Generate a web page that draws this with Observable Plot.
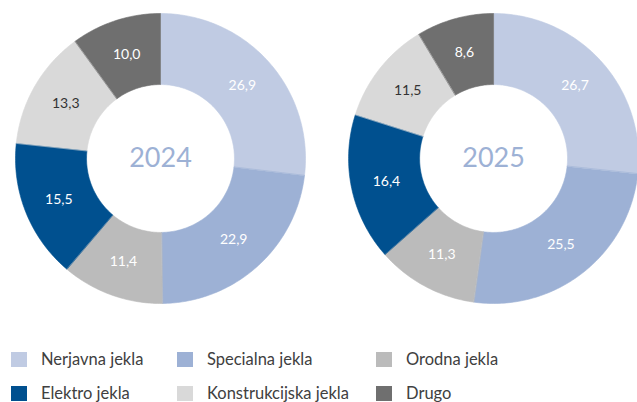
<!DOCTYPE html>
<html>
<head>
<meta charset="utf-8">
<script src="https://cdn.jsdelivr.net/npm/d3@7"></script>
<script src="https://cdn.jsdelivr.net/npm/@observablehq/plot@0.6"></script>
<style>
  html, body { margin: 0; padding: 0; background: #fff; overflow: hidden; }
  body { width: 637px; height: 402px; position: relative; font-family: Lato, "Open Sans", sans-serif; }
  #chart svg { display: block; }
  .legend { position: absolute; left: 0; top: 351px; width: 637px; }
  .item { position: absolute; display: flex; align-items: center; font-size: 16.5px; color: #404040; height: 16px; white-space: nowrap; }
  .sw { width: 16px; height: 15px; margin-right: 14px; flex: none; }
</style>
</head>
<body>
<div id="chart"></div>
<div class="legend" id="legend"></div>
<script>
// ---- data ----
const categories = ["Nerjavna jekla", "Specialna jekla", "Orodna jekla", "Elektro jekla", "Konstrukcijska jekla", "Drugo"];
const colors = ["#c0cbe3", "#9db1d5", "#bbbbbb", "#00508f", "#d9d9d9", "#6f6f6f"];
const labelColors = ["#ffffff", "#ffffff", "#ffffff", "#ffffff", "#333333", "#ffffff"];
const years = ["2024", "2025"];
const values2024 = [26.9, 22.9, 11.4, 15.5, 13.3, 10.0];
const values2025 = [26.7, 25.5, 11.3, 16.4, 11.5, 8.6];
const seriesValues = [values2024, values2025];

// ---- layout (radius units: outer radius = 1) ----
const R = 145;           // px per unit
const innerR = 0.51;
const labelR = 0.755;
const spacing = 2.297;   // distance between donut centers
const W = 637, H = 318, cx0 = 160, cy0 = 158;

const polys = [];
const labels = [];
const centers = [];
years.forEach((yr, yi) => {
  const vals = seriesValues[yi];
  const total = d3.sum(vals);
  const cx = yi * spacing;
  centers.push({x: cx, y: 0, text: yr});
  let acc = 0;
  vals.forEach((v, i) => {
    const a0 = acc / total * 2 * Math.PI;
    acc += v;
    const a1 = acc / total * 2 * Math.PI;
    const n = Math.max(2, Math.ceil((a1 - a0) / (Math.PI / 180)));
    const key = yr + "-" + i;
    for (let k = 0; k <= n; k++) {
      const a = a0 + (a1 - a0) * k / n;
      polys.push({key, cat: categories[i], x: cx + Math.sin(a), y: Math.cos(a)});
    }
    for (let k = n; k >= 0; k--) {
      const a = a0 + (a1 - a0) * k / n;
      polys.push({key, cat: categories[i], x: cx + innerR * Math.sin(a), y: innerR * Math.cos(a)});
    }
    const am = (a0 + a1) / 2;
    labels.push({x: cx + labelR * Math.sin(am), y: labelR * Math.cos(am),
      text: v.toFixed(1).replace(".", ","), color: labelColors[i]});
  });
});

const chart = Plot.plot({
  width: W,
  height: H,
  margin: 0,
  x: {domain: [-cx0 / R, (W - cx0) / R], axis: null},
  y: {domain: [-(H - cy0) / R, cy0 / R], axis: null},
  color: {domain: categories, range: colors},
  marks: [
    Plot.line(polys, {x: "x", y: "y", z: "key", fill: "cat", stroke: "cat", strokeWidth: 0.6, curve: "linear-closed"}),
    Plot.text(labels, {x: "x", y: "y", text: "text", fill: d => d.color, fontSize: 14, fontFamily: "Lato, 'Open Sans', sans-serif"}),
    Plot.text(centers, {x: "x", y: "y", text: "text", fill: "#9db1d5", fontSize: 27, fontFamily: "Lato, 'Open Sans', sans-serif"})
  ]
});
document.getElementById("chart").appendChild(chart);

// ---- legend ----
const legendCols = [11, 177, 376];
const legendRows = [0, 34];
const leg = document.getElementById("legend");
categories.forEach((c, i) => {
  const el = document.createElement("div");
  el.className = "item";
  el.style.left = legendCols[i % 3] + "px";
  el.style.top = legendRows[Math.floor(i / 3)] + "px";
  const sw = document.createElement("span");
  sw.className = "sw";
  sw.style.background = colors[i];
  el.appendChild(sw);
  const t = document.createElement("span");
  t.textContent = c;
  el.appendChild(t);
  leg.appendChild(el);
});
</script>
</body>
</html>
